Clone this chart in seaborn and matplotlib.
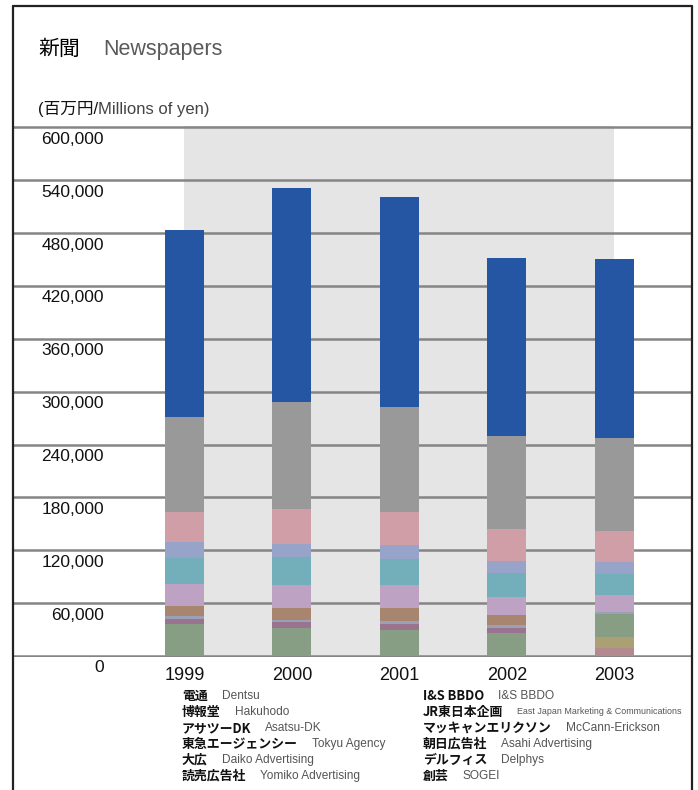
import numpy as np
import pandas as pd
import seaborn as sns
import matplotlib.pyplot as plt
import matplotlib.transforms as mtransforms
from matplotlib.lines import Line2D

# --- data (millions of yen) ---
years = ["1999", "2000", "2001", "2002", "2003"]

jp_names = ["電通", "博報堂", "アサツーDK", "東急エージェンシー", "大広", "読売広告社",
            "I&S BBDO", "JR東日本企画", "マッキャンエリクソン", "朝日広告社", "デルフィス", "創芸"]
en_names = ["Dentsu", "Hakuhodo", "Asatsu-DK", "Tokyu Agency", "Daiko Advertising",
            "Yomiko Advertising", "I&S BBDO", "East Japan Marketing & Communications",
            "McCann-Erickson", "Asahi Advertising", "Delphys", "SOGEI"]

dentsu = [212300, 242800, 238300, 202000, 203100]
hakuhodo = [107800, 121500, 119200, 105600, 105500]
asatsu = [33700, 39700, 37400, 36300, 35200]
tokyu = [18500, 14800, 15900, 13600, 13300]
daiko = [29500, 31700, 29500, 27200, 24200]
yomiko = [25000, 26100, 26100, 20500, 19300]
isbbdo = [11300, 13600, 14800, 11300, 0]
jr_east = [3400, 2000, 3400, 3400, 1900]
mccann = [5700, 7100, 6800, 5700, 0]
asahi = [36300, 31800, 29500, 26100, 26100]
delphys = [0, 0, 0, 0, 12500]
sogei = [0, 0, 0, 0, 9400]

colors = ["#2456a4", "#999999", "#d09ea6", "#97a3c8", "#72afba", "#bea2c4",
          "#a8856f", "#9aa0b6", "#9a7390", "#889e84", "#ab9f74", "#b38a90"]

df = pd.DataFrame(
    [dentsu, hakuhodo, asatsu, tokyu, daiko, yomiko, isbbdo, jr_east, mccann, asahi, delphys, sogei],
    index=en_names, columns=years,
)

sns.set_style("white")
plt.rcParams["font.family"] = ["Liberation Sans", "Noto Sans CJK JP", "DejaVu Sans"]
cjk = ["Noto Sans CJK JP", "DejaVu Sans"]

W, H = 698, 790
fig = plt.figure(figsize=(W / 100, H / 100), dpi=100)

# axes: y from 0 (px 656) to 600,000 (px 127.3), small margin so gridlines aren't clipped
pad = 1500
px_per_unit = (656 - 127.3) / 600000
ax_bottom = 656 + pad * px_per_unit
ax_top = 127.3 - pad * px_per_unit
ax = fig.add_axes([13 / W, 1 - ax_bottom / H, 679 / W, (ax_bottom - ax_top) / H])

# stacked bars: draw cumulative totals, top layer first
stack = df.iloc[::-1].cumsum()  # bottom -> top cumulative
for name, color in zip(df.index, colors):
    sns.barplot(x=years, y=stack.loc[name].values, color=color, saturation=1,
                width=0.363, errorbar=None, linewidth=0, ax=ax, zorder=3)

ax.axvspan(0, 4, color="#e5e5e5", zorder=0, linewidth=0)
ax.set_xlim(-1.595, 4.721)
ax.set_ylim(-pad, 600000 + pad)
ticks = list(range(0, 600001, 60000))
ax.set_yticks(ticks)
ax.set_yticklabels([])
ax.yaxis.grid(True, color="#858585", linewidth=1.8)
ax.xaxis.grid(False)
ax.set_axisbelow(True)
for s in ax.spines.values():
    s.set_visible(False)
ax.tick_params(axis="y", length=0)
ax.tick_params(axis="x", length=0, pad=7, labelsize=13, labelcolor="#111111")
ax.set_xlabel("")
ax.set_ylabel("")

lab_tr = ax.get_yaxis_transform() + mtransforms.ScaledTranslation(0, -0.045, fig.dpi_scale_trans)
for v in ticks:
    ax.text((104 - 13) / 679, v, f"{v:,}", transform=lab_tr, ha="right", va="top",
            fontsize=12.5, color="#111111")

# title and unit
fig.text(38 / W, 1 - 55 / H, "新聞", fontsize=15, family=cjk, va="baseline", color="black")
fig.text(103 / W, 1 - 55 / H, "Newspapers", fontsize=15.5, va="baseline", color="#5a5a5a")
unit_jp = fig.text(38 / W, 1 - 114 / H, "(百万円/", fontsize=12, va="baseline", color="#111111")
ax.annotate("Millions of yen)", xy=(1, 0), xycoords=unit_jp, xytext=(0, 0),
            textcoords="offset points", va="bottom", ha="left", fontsize=12,
            color="#444444", annotation_clip=False)

# company name list (no swatches, as in the original)
for i, (jp, en) in enumerate(zip(jp_names, en_names)):
    col, row = divmod(i, 6)
    x = (182 if col == 0 else 423) / W
    y = 1 - (696 + 16 * row) / H
    t = fig.text(x, y, jp, fontsize=9.3, family=cjk, weight="bold", va="center",
                 color="#111111")
    ax.annotate(en, xy=(1, 0.5), xycoords=t, xytext=(10, 0), textcoords="offset points",
                va="center", ha="left", fontsize=6.4 if len(en) > 25 else 8.6,
                color="#555555", annotation_clip=False)

# page frame
fr = dict(color="#222222", linewidth=1.6, transform=fig.transFigure)
fig.add_artist(Line2D([13 / W, 13 / W], [0, 1 - 6 / H], **fr))
fig.add_artist(Line2D([692 / W, 692 / W], [0, 1 - 6 / H], **fr))
fig.add_artist(Line2D([13 / W, 692 / W], [1 - 6 / H, 1 - 6 / H], **fr))

fig.savefig("out.png", dpi=100)
